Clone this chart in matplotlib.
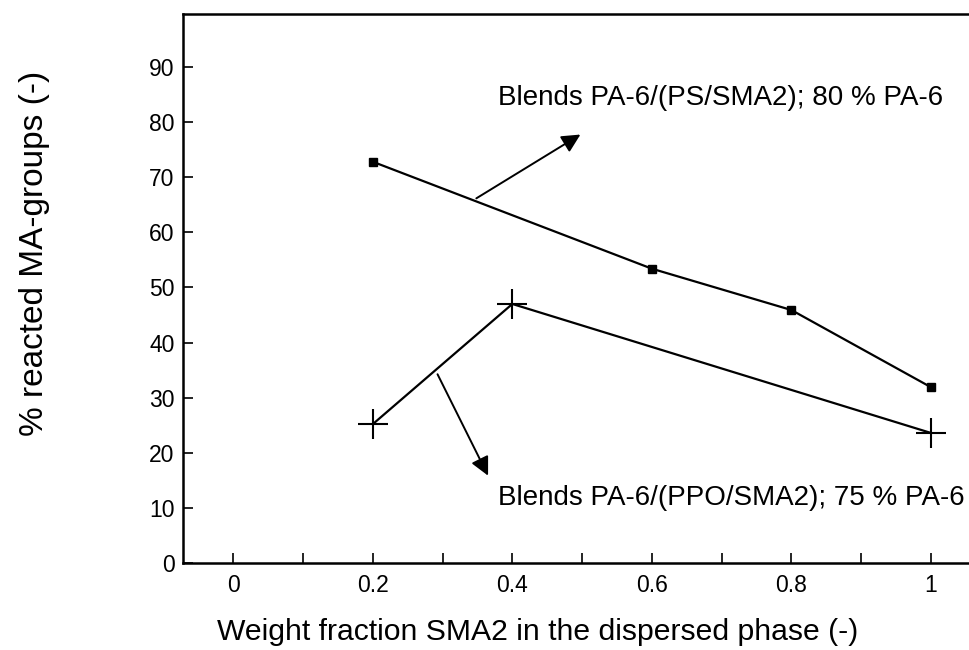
import matplotlib.pyplot as plt
from matplotlib.ticker import MultipleLocator

plt.rcParams['font.family'] = ['Liberation Sans', 'DejaVu Sans']

# data
x_ps = [0.2, 0.6, 0.8, 1.0]
y_ps = [72.8, 53.4, 45.9, 31.9]
x_ppo = [0.2, 0.4, 1.0]
y_ppo = [25.2, 47.0, 23.6]

label_ps = 'Blends PA-6/(PS/SMA2); 80 % PA-6'
label_ppo = 'Blends PA-6/(PPO/SMA2); 75 % PA-6'

fig = plt.figure(figsize=(9.7, 6.5), dpi=100)
ax = fig.add_axes([0.1887, 0.1338, 0.8113, 0.8446])

ax.plot(x_ps, y_ps, color='black', lw=1.6, marker='s', markersize=6)
ax.plot(x_ppo, y_ppo, color='black', lw=1.6, marker='+', markersize=21,
        markeredgewidth=1.5)

# arrows to the labels
ax.annotate('', xy=(0.501, 78.0), xytext=(0.345, 65.9),
            arrowprops=dict(arrowstyle='-|>', color='black', lw=1.4,
                            mutation_scale=28))
ax.annotate('', xy=(0.367, 15.4), xytext=(0.291, 34.7),
            arrowprops=dict(arrowstyle='-|>', color='black', lw=1.4,
                            mutation_scale=28))
ax.text(0.38, 83.1, label_ps, fontsize=20, va='baseline', ha='left')
ax.text(0.38, 10.5, label_ppo, fontsize=20, va='baseline', ha='left')

ax.set_xlim(-0.072, 1.056)
ax.set_ylim(0, 99.6)
ax.set_xticks([0, 0.2, 0.4, 0.6, 0.8, 1.0])
ax.set_xticklabels(['0', '0.2', '0.4', '0.6', '0.8', '1'])
ax.xaxis.set_minor_locator(MultipleLocator(0.1))
ax.set_yticks(range(0, 100, 10))

ax.tick_params(axis='both', which='both', direction='in', labelsize=16.5,
               color='black', width=1.2)
ax.tick_params(axis='x', which='major', length=7, pad=8)
ax.tick_params(axis='x', which='minor', length=7)
ax.tick_params(axis='y', length=7, pad=6)

for s in ['left', 'bottom', 'top']:
    ax.spines[s].set_linewidth(1.8)
ax.spines['right'].set_visible(False)

fig.text(538 / 970, 1 - 640 / 650,
         'Weight fraction SMA2 in the dispersed phase (-)', fontsize=21.7,
         ha='center', va='baseline')
fig.text(35 / 970, 1 - 253 / 650, '% reacted MA-groups (-)', fontsize=24,
         ha='center', va='center', rotation=90)

fig.savefig('out.png', dpi=100)
